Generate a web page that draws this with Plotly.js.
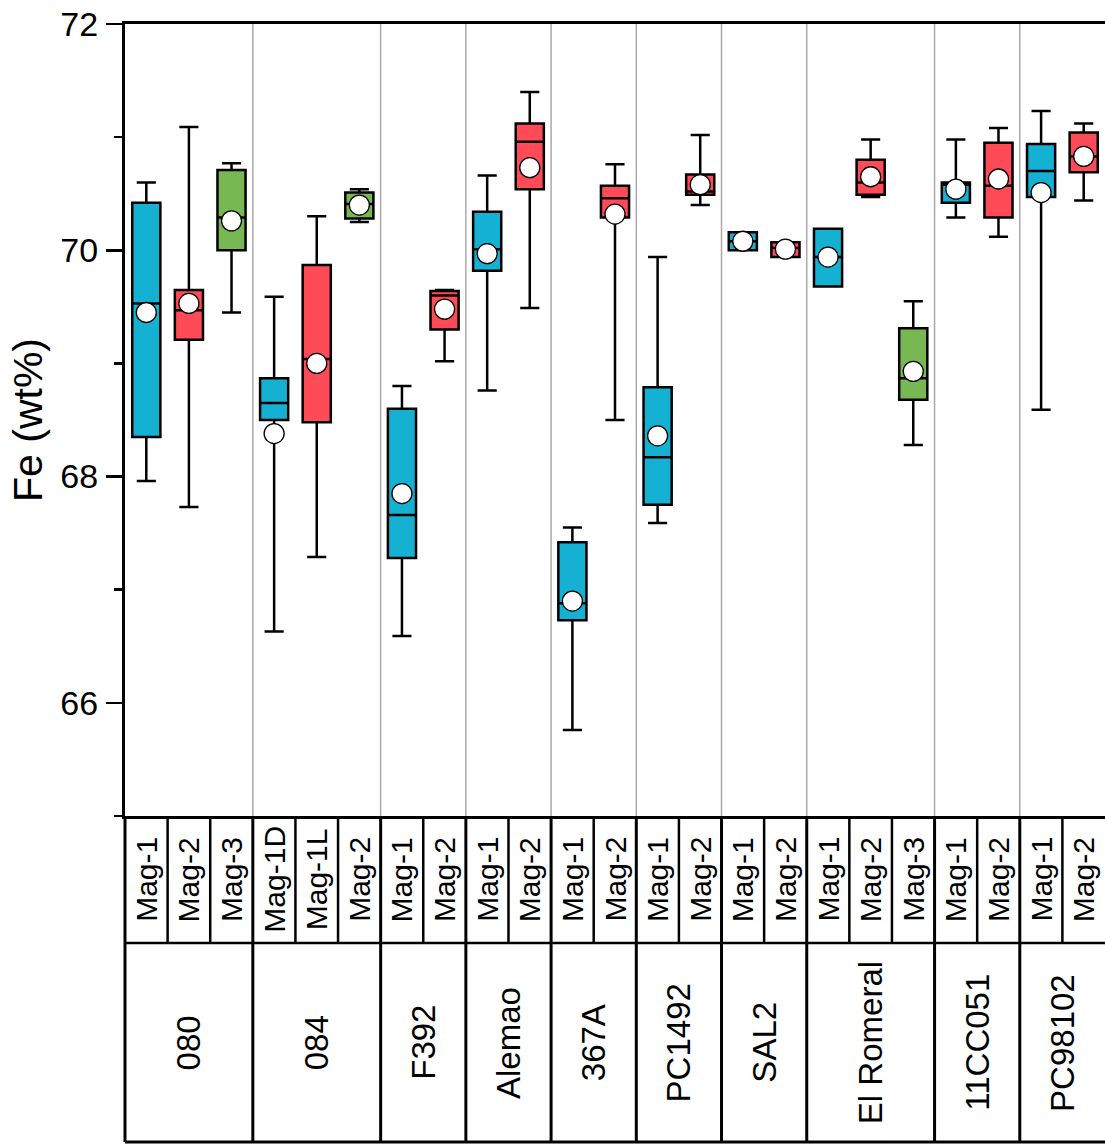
<!DOCTYPE html>
<html>
<head>
<meta charset="utf-8">
<script src="https://cdn.plot.ly/plotly-3.0.1.min.js"></script>
<style>html,body{margin:0;padding:0;background:#fff;}</style>
</head>
<body>
<div id="chart" style="width:1105px;height:1147px;"></div>
<script>
// ---- data ----
var groups = ['080', '084', 'F392', 'Alemao', '367A', 'PC1492', 'SAL2', 'El Romeral', '11CC051', 'PC98102'];
var subLabels = [
  ['Mag-1', 'Mag-2', 'Mag-3'],
  ['Mag-1D', 'Mag-1L', 'Mag-2'],
  ['Mag-1', 'Mag-2'],
  ['Mag-1', 'Mag-2'],
  ['Mag-1', 'Mag-2'],
  ['Mag-1', 'Mag-2'],
  ['Mag-1', 'Mag-2'],
  ['Mag-1', 'Mag-2', 'Mag-3'],
  ['Mag-1', 'Mag-2'],
  ['Mag-1', 'Mag-2']
];
var lowerWhisker = [67.96, 67.73, 69.45, 66.63, 67.29, 70.25, 66.59, 69.02, 68.76, 69.49, 65.76, 68.50, 67.59, 70.40, 70.00, 69.94, 69.68, 70.47, 68.28, 70.29, 70.12, 68.59, 70.44];
var q1Vals       = [68.35, 69.21, 70.00, 68.50, 68.48, 70.28, 67.28, 69.30, 69.82, 70.54, 66.73, 70.29, 67.75, 70.49, 70.00, 69.94, 69.68, 70.49, 68.68, 70.42, 70.29, 70.47, 70.69];
var medianVals   = [69.53, 69.47, 70.29, 68.65, 69.04, 70.41, 67.66, 69.60, 70.01, 70.96, 66.88, 70.46, 68.17, 70.52, 70.08, 70.02, 69.94, 70.60, 68.87, 70.58, 70.57, 70.70, 70.83];
var q3Vals       = [70.42, 69.65, 70.71, 68.87, 69.87, 70.51, 68.60, 69.64, 70.34, 71.12, 67.42, 70.57, 68.79, 70.67, 70.16, 70.07, 70.19, 70.80, 69.31, 70.60, 70.95, 70.94, 71.04];
var upperWhisker = [70.60, 71.09, 70.77, 69.59, 70.30, 70.54, 68.80, 69.65, 70.66, 71.40, 67.55, 70.76, 69.94, 71.02, 70.16, 70.07, 70.19, 70.98, 69.55, 70.98, 71.08, 71.23, 71.12];
var meanVals     = [69.45, 69.53, 70.26, 68.38, 69.00, 70.40, 67.85, 69.48, 69.97, 70.73, 66.90, 70.32, 68.36, 70.58, 70.08, 70.01, 69.94, 70.65, 68.93, 70.54, 70.63, 70.51, 70.83];

// ---- styles ----
var palette = ['#14B1D2', '#FF4A57', '#77B852']; // 1st, 2nd, 3rd series within a group
var FONT = 'Liberation Sans, Arial, Helvetica, sans-serif';

// ---- build ----
var nSlots = 0;
subLabels.forEach(function (g) { nSlots += g.length; });

var traces = [];
var annotations = [];
var shapes = [];
var meanX = [];
var yRow1 = -127 / 792, yRow2 = -326 / 792;
var slot = 0;
function px(b) { return (b + 0.5) / nSlots; } // boundary in slot units -> paper

shapes.push({type: 'line', xref: 'paper', yref: 'paper', x0: 0, x1: 0, y0: 0, y1: yRow2, line: {color: '#000', width: 3}});

groups.forEach(function (gName, gi) {
  var subs = subLabels[gi];
  var start = slot;
  subs.forEach(function (s, si) {
    traces.push({
      type: 'box',
      x: [slot],
      q1: [q1Vals[slot]],
      median: [medianVals[slot]],
      q3: [q3Vals[slot]],
      lowerfence: [lowerWhisker[slot]],
      upperfence: [upperWhisker[slot]],
      width: 0.66,
      whiskerwidth: 0.68,
      fillcolor: palette[si],
      line: {color: '#000', width: 2.5},
      boxpoints: false,
      showlegend: false,
      hoverinfo: 'y'
    });
    meanX.push(slot);
    annotations.push({
      x: slot, xref: 'x', y: yRow1 / 2, yref: 'paper',
      text: s, textangle: -90, showarrow: false,
      font: {family: FONT, size: 30, color: '#000'},
      xanchor: 'center', yanchor: 'middle'
    });
    if (si > 0) {
      shapes.push({type: 'line', xref: 'paper', yref: 'paper', x0: px(slot - 0.5), x1: px(slot - 0.5), y0: 0, y1: yRow1, line: {color: '#000', width: 2.5}});
    }
    slot++;
  });
  var end = slot - 1;
  annotations.push({
    x: (start + end) / 2, xref: 'x', y: (yRow1 + yRow2) / 2, yref: 'paper',
    text: gName, textangle: -90, showarrow: false,
    font: {family: FONT, size: 33, color: '#000'},
    xanchor: 'center', yanchor: 'middle'
  });
  if (gi < groups.length - 1) {
    var b = end + 0.5;
    shapes.push({type: 'line', xref: 'paper', yref: 'paper', x0: px(b), x1: px(b), y0: 0, y1: 1, line: {color: '#a9a9a9', width: 1.5}, layer: 'below'});
    shapes.push({type: 'line', xref: 'paper', yref: 'paper', x0: px(b), x1: px(b), y0: 0, y1: yRow2, line: {color: '#000', width: 3}});
  }
});

shapes.push({type: 'line', xref: 'paper', yref: 'paper', x0: 0, x1: 1, y0: yRow1, y1: yRow1, line: {color: '#000', width: 2.5}});
shapes.push({type: 'line', xref: 'paper', yref: 'paper', x0: 0, x1: 1, y0: yRow2, y1: yRow2, line: {color: '#000', width: 3}});

traces.push({
  type: 'scatter', mode: 'markers',
  x: meanX, y: meanVals,
  marker: {size: 20, color: '#fff', line: {color: '#000', width: 1.3}},
  showlegend: false, cliponaxis: false, hoverinfo: 'y'
});

var layout = {
  width: 1105, height: 1147,
  margin: {l: 125, r: 0, t: 24, b: 331, pad: 0},
  paper_bgcolor: '#fff', plot_bgcolor: '#fff',
  showlegend: false,
  boxmode: 'overlay',
  font: {family: FONT, color: '#000'},
  xaxis: {
    range: [-0.5, nSlots - 0.5],
    showgrid: false, zeroline: false,
    showticklabels: false, ticks: '',
    showline: true, mirror: true, linecolor: '#000', linewidth: 3
  },
  yaxis: {
    range: [65, 72],
    tick0: 0, dtick: 2,
    ticks: 'outside', ticklen: 16, tickwidth: 2.5, tickcolor: '#000',
    minor: {dtick: 1, ticks: 'outside', ticklen: 8, tickwidth: 2.5, tickcolor: '#000', showgrid: false},
    showgrid: false, zeroline: false,
    showline: true, linecolor: '#000', linewidth: 3,
    tickfont: {family: FONT, size: 34, color: '#000'},
    ticklabelstandoff: 1,
    title: {text: 'Fe (wt%)', font: {family: FONT, size: 41, color: '#000'}, standoff: 6}
  },
  shapes: shapes,
  annotations: annotations
};

Plotly.newPlot('chart', traces, layout, {displayModeBar: false, staticPlot: true});
</script>
</body>
</html>
